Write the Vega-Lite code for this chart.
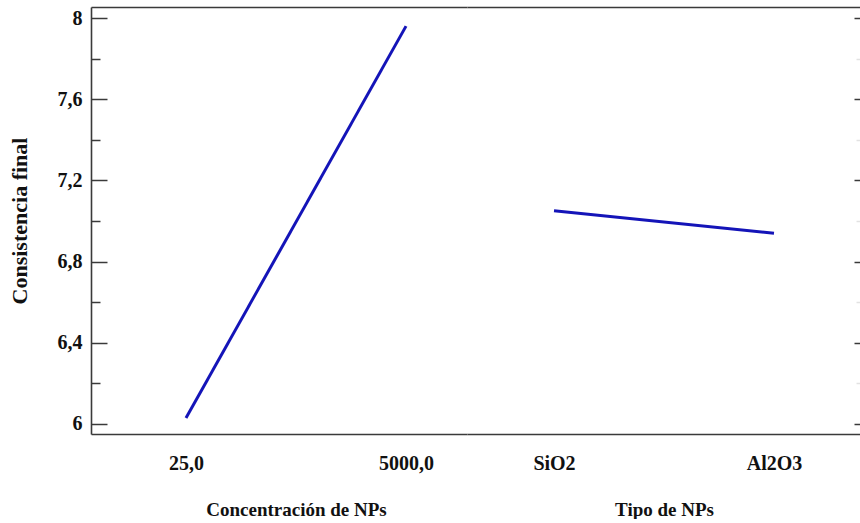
{
  "$schema": "https://vega.github.io/schema/vega-lite/v6.json",
  "description": "Main effects plot: final consistency by NP concentration and NP type",
  "padding": {"left": 8, "top": 7, "right": 0, "bottom": 0},
  "bounds": "flush",
  "spacing": 0,
  "config": {
    "locale": {"number": {"decimal": ",", "thousands": ".", "grouping": [3], "currency": ["", ""]}},
    "view": {"stroke": null},
    "font": "Liberation Serif",
    "axis": {
      "grid": false,
      "domainColor": "#3a3a3a",
      "domainWidth": 1.6,
      "tickColor": "#3a3a3a",
      "tickWidth": 1.5,
      "labelFont": "Liberation Serif",
      "labelFontWeight": "bold",
      "labelColor": "#111111",
      "titleFont": "Liberation Serif",
      "titleFontWeight": "bold",
      "titleColor": "#111111"
    }
  },
  "datasets": {
    "concentracion": [
      {"concentracion": 25, "consistencia": 6.03},
      {"concentracion": 5000, "consistencia": 7.96}
    ],
    "tipo": [
      {"tipo": "SiO2", "consistencia": 7.05},
      {"tipo": "Al2O3", "consistencia": 6.94}
    ]
  },
  "hconcat": [
    {
      "width": 376,
      "height": 427,
      "data": {"name": "concentracion"},
      "layer": [
        {
          "mark": {"type": "line", "color": "#1414b8", "strokeWidth": 3},
          "encoding": {
            "x": {
              "field": "concentracion",
              "type": "quantitative",
              "scale": {"domain": [-2123.3, 6379.4], "nice": false, "zero": false},
              "axis": {
                "values": [25, 5000],
                "format": ".1f",
                "ticks": false,
                "labelFlush": false,
                "labelFontSize": 20,
                "labelBaseline": "alphabetic",
                "labelPadding": 35,
                "title": "Concentración de NPs",
                "titleFontSize": 19,
                "titleX": 205,
                "titleY": 81,
                "titleBaseline": "alphabetic"
              }
            },
            "y": {
              "field": "consistencia",
              "type": "quantitative",
              "scale": {"domain": [5.9507, 8.0542], "nice": false, "zero": false},
              "axis": {
                "values": [6, 6.1, 6.2, 6.3, 6.4, 6.5, 6.6, 6.7, 6.8, 6.9, 7, 7.1, 7.2, 7.3, 7.4, 7.5, 7.6, 7.7, 7.8, 7.9, 8],
                "format": ".1~f",
                "labelExpr": "abs(round(datum.value * 10)) % 4 == 0 ? datum.label : ''",
                "tickSize": {"condition": {"test": "abs(round(datum.value * 10)) % 4 == 0", "value": -16}, "value": -9},
                "labelPadding": 25,
                "labelFontSize": 20,
                "labelFlush": false,
                "title": "Consistencia final",
                "titleFontSize": 22,
                "titleAngle": -90,
                "titleX": -65,
                "titleBaseline": "alphabetic"
              }
            }
          }
        },
        {
          "mark": {"type": "line", "strokeOpacity": 0},
          "encoding": {
            "x": {
              "field": "concentracion",
              "type": "quantitative",
              "scale": {"domain": [-2123.3, 6379.4], "nice": false, "zero": false},
              "axis": {"orient": "top", "labels": false, "ticks": false, "title": null}
            },
            "y": {"field": "consistencia", "type": "quantitative"}
          }
        }
      ],
      "resolve": {"axis": {"x": "independent"}}
    },
    {
      "width": 394,
      "height": 427,
      "data": {"name": "tipo"},
      "layer": [
        {
          "mark": {"type": "line", "color": "#1414b8", "strokeWidth": 3},
          "encoding": {
            "x": {
              "field": "tipo",
              "type": "nominal",
              "sort": ["SiO2", "Al2O3"],
              "scale": {"type": "point", "padding": 0.3955},
              "axis": {
                "labelAngle": 0,
                "ticks": false,
                "labelFontSize": 20,
                "labelBaseline": "alphabetic",
                "labelPadding": 35,
                "title": "Tipo de NPs",
                "titleFontSize": 19,
                "titleY": 81,
                "titleBaseline": "alphabetic"
              }
            },
            "y": {
              "field": "consistencia",
              "type": "quantitative",
              "scale": {"domain": [5.9507, 8.0542], "nice": false, "zero": false},
              "axis": {
                "orient": "right",
                "values": [6, 6.1, 6.2, 6.3, 6.4, 6.5, 6.6, 6.7, 6.8, 6.9, 7, 7.1, 7.2, 7.3, 7.4, 7.5, 7.6, 7.7, 7.8, 7.9, 8],
                "labels": false,
                "domain": false,
                "tickSize": {"condition": {"test": "abs(round(datum.value * 10)) % 4 == 0", "value": -7}, "value": -5},
                "tickColor": {"condition": {"test": "abs(round(datum.value * 10)) % 4 == 0", "value": "#3a3a3a"}, "value": "#e2e2e2"},
                "title": null
              }
            }
          }
        },
        {
          "mark": {"type": "line", "strokeOpacity": 0},
          "encoding": {
            "x": {
              "field": "tipo",
              "type": "nominal",
              "sort": ["SiO2", "Al2O3"],
              "scale": {"type": "point", "padding": 0.3955},
              "axis": {"orient": "top", "labels": false, "ticks": false, "title": null}
            },
            "y": {"field": "consistencia", "type": "quantitative"}
          }
        }
      ],
      "resolve": {"axis": {"x": "independent"}}
    }
  ]
}
